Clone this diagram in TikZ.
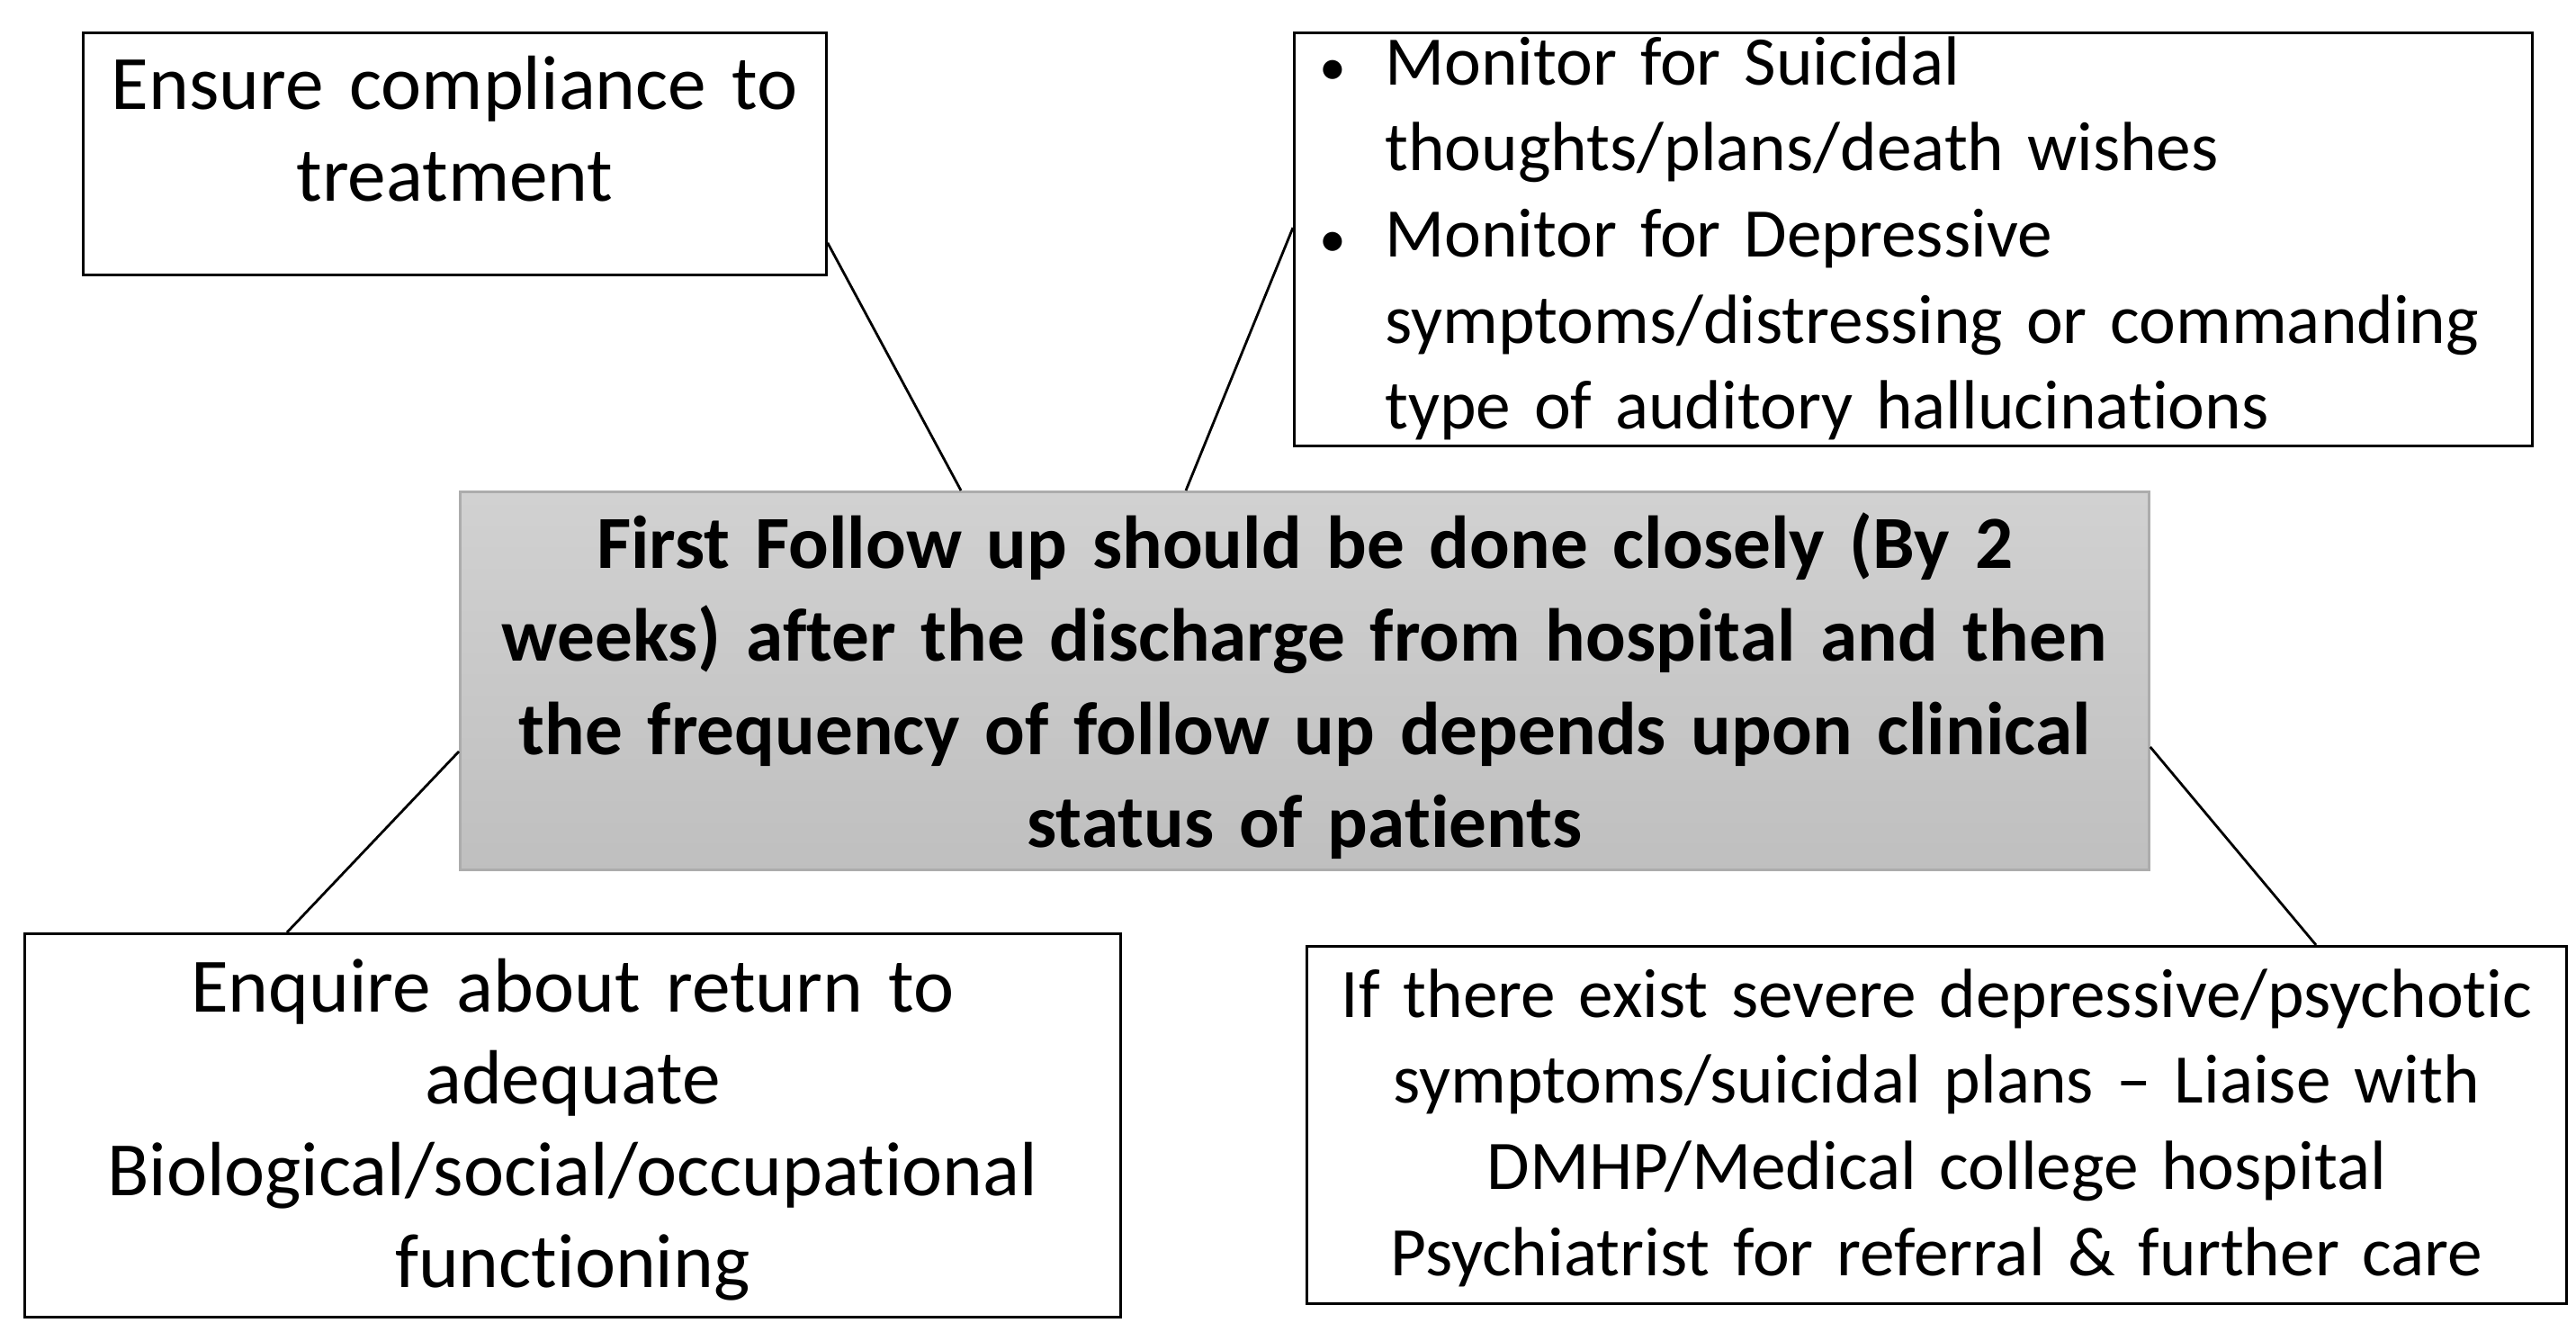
\documentclass[tikz,border=0pt]{standalone}
\usepackage{fontspec}
\setmainfont{Carlito}[Ligatures=NoCommon]

\tikzset{
  box/.style={draw, line width=0.8pt, anchor=north west, inner sep=0pt, align=center},
  big/.style={font=\fontsize{24.3}{29}\selectfont},
  small/.style={font=\fontsize{22}{27.2}\selectfont},
  link/.style={line width=0.8pt},
}
\newcommand{\bulletmark}{\leavevmode\llap{\makebox[1.01cm][l]{\hspace{0.28cm}{\fontsize{17}{17}\selectfont •}}}}

\begin{document}
\begin{tikzpicture}
  \useasboundingbox (0,0) rectangle (28.63,14.70);

  % outer boxes
  \node[box, big, text width=8.26cm, text height=0.85cm, text depth=1.84cm] (comply) at (0.91,14.35)
    {Ensure compliance to\\ treatment};
  \node[box, small, align=left, text width=13.76cm, text height=0.58cm, text depth=4.01cm] (monitor) at (14.37,14.35)
    {\leftskip=1.01cm
     \bulletmark Monitor for Suicidal\\
     thoughts/plans/death wishes\\
     \bulletmark Monitor for Depressive\\
     symptoms/distressing or commanding\\
     type of auditory hallucinations\par};
  \node[box, big, text width=12.18cm, text height=0.87cm, text depth=3.39cm] (enquire) at (0.26,4.34)
    {Enquire about return to\\ adequate\\ Biological/social/occupational\\ functioning};
  \node[box, small, text width=14.00cm, text height=0.79cm, text depth=3.18cm] (liaise) at (14.51,4.20)
    {If there exist severe depressive/psychotic\\ symptoms/suicidal plans – Liaise with\\
     DMHP/Medical college hospital\\ Psychiatrist for referral \& further care};

  % central box
  \node[box, draw=gray!65, top color=gray!36, bottom color=gray!50,
        font=\fontsize{23.7}{29.4}\selectfont\bfseries,
        text width=18.77cm, text height=0.85cm, text depth=3.35cm] (followup) at (5.10,9.25)
    {First Follow up should be done closely (By 2\\ weeks) after the discharge from hospital and then\\
     the frequency of follow up depends upon clinical\\ status of patients};

  % connectors
  \draw[link] ([yshift=0.37cm]comply.south east) -- ([xshift=5.58cm]followup.north west);
  \draw[link] ([yshift=-2.18cm]monitor.north west) -- ([xshift=8.08cm]followup.north west);
  \draw[link] ([yshift=-2.90cm]followup.north west) -- ([xshift=2.93cm]enquire.north west);
  \draw[link] ([yshift=-2.85cm]followup.north east) -- ([xshift=11.23cm]liaise.north west);
\end{tikzpicture}
\end{document}
